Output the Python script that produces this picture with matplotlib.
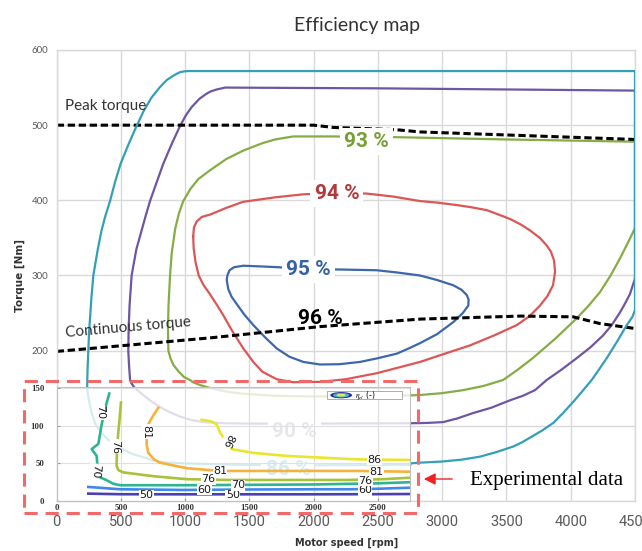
import matplotlib
matplotlib.use("Agg")
import matplotlib.pyplot as plt
from matplotlib import font_manager
from matplotlib.patches import Rectangle, Ellipse, FancyArrowPatch

plt.rcParams['mathtext.fontset'] = 'stix'

names = {f.name for f in font_manager.fontManager.ttflist}
HAS_NARROW = 'Liberation Sans Narrow' in names
NARROW = 'Liberation Sans Narrow' if HAS_NARROW else 'Roboto'

# ---------------- data ----------------
speed_ticks = [0, 500, 1000, 1500, 2000, 2500, 3000, 3500, 4000, 4500]
torque_ticks = [0, 100, 200, 300, 400, 500, 600]
torque_tick_labels = ['', '', '200', '300', '400', '500', '600']
inset_speed_ticks = [0, 500, 1000, 1500, 2000, 2500]
inset_torque_ticks = [0, 50, 100, 150]

# efficiency contours (motor speed rpm, torque Nm)
eff86_speed = [2750, 2000, 1500, 1200, 1000, 850, 750, 680, 600, 520, 439, 390, 340, 300, 272, 258, 245, 237,
               238, 241, 246, 252, 262, 270, 285, 300, 320, 349, 380, 415, 455, 498, 560, 622, 680, 739, 800,
               856, 900, 930, 960, 990, 1024, 4500, 4500, 4480, 4436, 4360, 4280, 4220, 4163, 4090, 4020, 3940,
               3865, 3780, 3700, 3620, 3553, 3420, 3294, 3150, 3000, 2827, 2750]
eff86_torque = [48, 47.5, 48, 49, 50, 51.5, 54, 58, 62, 68, 77, 83, 92, 103, 117, 128, 140, 150,
                161, 180, 200, 225, 250, 270, 300, 315, 335, 360, 380, 399, 425, 449, 475, 499, 520, 537, 550,
                560, 565, 568, 570.5, 571.5, 572, 572, 254, 245, 234, 212, 190, 175, 161, 146, 132, 117,
                104, 94, 86, 78, 72.5, 65, 59, 55, 52.5, 51, 50]

eff90_speed = [2750, 2000, 1500, 1300, 1140, 1040, 950, 870, 805, 740, 680, 630, 600, 580, 571, 563, 557, 560,
               567, 583, 620, 661, 690, 726, 780, 830, 895, 960, 1005, 1050, 1110, 1167, 1200, 1245, 1310, 2500,
               4500, 4500, 4460, 4420, 4380, 4319, 4250, 4150, 4046, 3930, 3813, 3722, 3628, 3528, 3380, 3240,
               3120, 3008, 2900, 2827, 2750]
eff90_torque = [103.5, 103, 103, 103.5, 105, 108, 113, 119, 125, 132, 140, 147, 152, 157, 161, 180, 200, 230,
                260, 300, 335, 360, 378, 399, 425, 449, 475, 499, 513, 524, 535, 542, 545, 547.5, 550, 549,
                546, 296, 275, 262, 250, 234, 220, 204, 190, 175, 161, 147.5, 140, 134, 124, 117,
                110, 105, 104, 103.6, 103.5]

eff93_speed = [2750, 2400, 2000, 1700, 1430, 1300, 1200, 1120, 1060, 1037, 990, 950, 908, 885, 869, 866, 870,
               882, 895, 922, 950, 985, 1040, 1100, 1193, 1320, 1450, 1600, 1700, 1840, 2150, 2645, 3500, 4500,
               4500, 4440, 4384, 4310, 4228, 4140, 4046, 3880, 3704, 3590, 3474, 3320, 3163, 3000, 2827, 2750]
eff93_torque = [140.5, 140, 139, 140, 143, 146, 150, 154, 158, 161, 165, 172, 181, 190, 200, 230, 260,
                300, 330, 362, 382, 399, 415, 428, 440, 455, 466, 476, 481, 485, 485, 484, 481, 478,
                363, 342, 323, 300, 278, 260, 243, 216, 190, 175, 161, 153, 147.5, 143.5, 141, 140.5]

eff94_speed = [1062, 1066, 1080, 1105, 1140, 1193, 1250, 1300, 1370, 1452, 1530, 1600, 1712, 1840, 2049, 2250,
               2490, 2827, 3020, 3216, 3400, 3580, 3680, 3761, 3820, 3862, 3878, 3870, 3845, 3813, 3760, 3683,
               3610, 3530, 3440, 3346, 3220, 3100, 2960, 2827, 2620, 2412, 2180, 1918, 1700, 1450, 1320, 1193,
               1130, 1090, 1068, 1062]
eff94_torque = [352, 336, 318, 300, 288, 275, 260, 246, 225, 203, 185, 172, 162, 158, 158.5, 162,
                170, 185, 196, 207, 220, 234, 246, 260, 273, 287, 305, 320, 332, 340, 350, 360,
                368, 375, 381, 387, 391, 394, 397, 399, 405, 409, 410, 408, 404, 398, 390, 381,
                378, 372, 364, 352]

eff95_speed = [1958, 1725, 1600, 1452, 1380, 1345, 1328, 1323, 1335, 1360, 1401, 1460, 1530, 1620, 1712, 1810,
               1919, 2049, 2200, 2360, 2500, 2646, 2740, 2827, 2960, 3086, 3160, 3203, 3205, 3191, 3150, 3086,
               2960, 2827, 2650, 2490, 2192, 1958]
eff95_torque = [308, 311, 312, 313, 311, 307, 300, 294, 282, 272, 262, 248, 234, 218, 203, 192,
                185, 181.6, 182, 185, 190, 196, 203, 210, 222, 238, 250, 260, 268, 274, 281, 287,
                294, 300, 304, 307, 308, 308]

peak_speed = [0, 2000, 2150, 2640, 2827, 4500]
peak_torque = [500, 500, 497, 494, 491, 481]
cont_speed = [0, 600, 1193, 2049, 2827, 3606, 4019, 4228, 4500]
cont_torque = [199, 208, 217, 232, 242, 246, 245, 236, 229.5]

eff_labels = ['86 %', '90 %', '93 %', '94 %', '95 %', '96 %']
eff_label_speed = [1800, 1850, 2410, 2180, 1958, 2049]
eff_label_torque = [42, 93, 478, 409, 308, 243]

# experimental data (inset) contours
exp50_speed = [246, 500, 1000, 1500, 2000, 2500, 2750]
exp50_torque = [9.8, 9, 8.9, 8.9, 8.9, 9.1, 9.3]
exp60_speed = [246, 493, 985, 1500, 2000, 2283, 2500, 2750]
exp60_torque = [18.7, 15.6, 14.7, 15.3, 15.6, 15.6, 16.3, 17.7]
exp70_speed = [409, 380, 350, 324, 272, 311, 316, 305, 330, 384, 440, 493, 1000, 1500, 2000, 2500, 2750]
exp70_torque = [143, 125, 102, 76, 69, 60, 49, 40, 32, 28, 23, 21, 21, 21.5, 22, 23.5, 25]
exp76_speed = [500, 490, 480, 470, 466, 480, 519, 752, 1012, 1323, 2000, 2257, 2540, 2750]
exp76_torque = [131, 110, 93, 71, 47, 41, 38, 33, 29, 28, 28, 28, 29, 31]
exp81_speed = [791, 745, 713, 700, 700, 713, 760, 804, 1012, 1128, 1270, 1427, 2000, 2335, 2490, 2750]
exp81_torque = [124, 112, 102, 89, 75, 64, 55, 51, 43.6, 42, 40, 40, 40, 40, 39.5, 39]
exp86_speed = [1128, 1200, 1245, 1271, 1300, 1362, 1530, 1790, 2306, 2470, 2750]
exp86_torque = [108, 106, 102, 91, 84, 69, 64, 60, 55.6, 55, 54.7]

exp_labels = ['50', '50', '60', '60', '70', '70', '70', '76', '76', '76', '81', '81', '81', '86', '86']
exp_label_speed = [700, 1370, 1150, 2400, 337, 298, 1410, 455, 1180, 2400, 694, 1270, 2490, 1330, 2470]
exp_label_torque = [8, 8, 15, 14, 118, 40, 21, 72, 29, 27, 92, 40, 39, 80, 55]
exp_label_rot = [0, 0, 0, 0, -90, -95, 0, -90, 0, 0, -90, 0, 0, -115, 0]

# ---------------- styles ----------------
W, H = 642, 551
fig = plt.figure(figsize=(W / 100, H / 100), dpi=100)
x0, x1, y_top, y_bot = 56.7, 635.0, 50.0, 501.0
ax = fig.add_axes([x0 / W, 1 - y_bot / H, (x1 - x0) / W, (y_bot - y_top) / H])
ax.set_xlim(0, 4500)
ax.set_ylim(0, 600)
ax.set_xticks(speed_ticks)
ax.set_yticks(torque_ticks)
ax.set_yticklabels(torque_tick_labels, fontfamily='Lato')
ax.set_xticklabels([str(v) for v in speed_ticks], fontfamily=NARROW)
ax.grid(True, color='#d9d9d9', lw=1.0)
ax.set_axisbelow(True)
for s in ax.spines.values():
    s.set_color('#d9d9d9')
    s.set_linewidth(1.0)
ax.tick_params(length=0)
ax.tick_params(axis='y', pad=6, labelsize=7, labelcolor='#595959')
xt_size = 13 if HAS_NARROW else 10.5
ax.tick_params(axis='x', pad=10, labelsize=xt_size, labelcolor='#595959')

col86, col90, col93, col94, col95 = '#33a0b6', '#6e56a4', '#86ad45', '#dc5656', '#3d67aa'
lw = 1.6
ax.plot(eff86_speed, eff86_torque, color=col86, lw=lw, zorder=2.6)
ax.plot(eff90_speed, eff90_torque, color=col90, lw=lw, zorder=2.4)
ax.plot(eff93_speed, eff93_torque, color=col93, lw=lw, zorder=2.3)
ax.plot(eff94_speed, eff94_torque, color=col94, lw=lw, zorder=2.3)
ax.plot(eff95_speed, eff95_torque, color=col95, lw=lw, zorder=2.3)
ax.plot(peak_speed, peak_torque, color='black', lw=2.2, dashes=(2.4, 1.2), zorder=2.5)
ax.plot(cont_speed, cont_torque, color='black', lw=2.2, dashes=(2.4, 1.2), zorder=2.5)

lab_size = 18 if HAS_NARROW else 15
lab_colors = [col86, '#8f86a8', '#74a034', '#b3383b', '#3561a5', 'black']
for t, sx, ty, c in zip(eff_labels, eff_label_speed, eff_label_torque, lab_colors):
    bb = None if t == '96 %' else dict(boxstyle='square,pad=0.2', fc='white', ec='none')
    ax.text(sx, ty, t, color=c, fontsize=lab_size, fontfamily=NARROW, fontweight='bold',
            ha='center', va='center', bbox=bb, zorder=3)

ax.text(65, 520, 'Peak torque', fontfamily='Lato', fontsize=11, color='#333333', va='baseline')
ax.text(73, 218, 'Continuous torque', fontfamily='Lato', fontsize=11, color='#333333', va='baseline',
        rotation=5, rotation_mode='anchor')

fig.text(357 / W, 1 - 25 / H, 'Efficiency map', fontfamily='Lato', fontsize=14, color='#333333',
         ha='center', va='center')
fig.text(20 / W, 1 - 276 / H, 'Torque [Nm]', fontfamily='DejaVu Sans', fontweight='bold', fontsize=7.5,
         color='#333333', rotation=90, ha='center', va='center')
fig.text(347 / W, 1 - 542.5 / H, 'Motor speed [rpm]', fontfamily='DejaVu Sans', fontweight='bold',
         fontsize=7, color='#333333', ha='center', va='center')

# ---------------- inset (experimental data) ----------------
axin = ax.inset_axes([0, 0, 2750, 152], transform=ax.transData)
axin.set_xlim(0, 2750)
axin.set_ylim(0, 152)
axin.patch.set_facecolor('white')
axin.patch.set_alpha(0.8)
axin.set_xticks(inset_speed_ticks)
axin.set_yticks(inset_torque_ticks)
axin.set_xticklabels([str(v) for v in inset_speed_ticks], fontfamily='Liberation Serif', fontweight='bold')
axin.set_yticklabels([str(v) for v in inset_torque_ticks], fontfamily='Liberation Serif', fontweight='bold')
axin.grid(True, color='#e0e0e0', lw=0.8)
axin.set_axisbelow(True)
for s in axin.spines.values():
    s.set_color('#c0c0c0')
    s.set_linewidth(0.8)
axin.tick_params(direction='in', length=2, color='#999999', labelsize=6.3, labelcolor='#333333')
axin.tick_params(axis='x', pad=2)
axin.tick_params(axis='y', pad=9)

elw = 1.9
axin.plot(exp50_speed, exp50_torque, color='#4b3fb4', lw=elw)
axin.plot(exp60_speed, exp60_torque, color='#3f87ee', lw=elw)
axin.plot(exp70_speed, exp70_torque, color='#2db592', lw=elw)
axin.plot(exp76_speed, exp76_torque, color='#a8c23a', lw=elw)
axin.plot(exp81_speed, exp81_torque, color='#f5b23c', lw=elw)
axin.plot(exp86_speed, exp86_torque, color='#e9e62e', lw=elw)
for t, sx, ty, r in zip(exp_labels, exp_label_speed, exp_label_torque, exp_label_rot):
    axin.text(sx, ty, t, fontsize=8, fontfamily='DejaVu Sans', color='#1a1a1a', rotation=r,
              ha='center', va='center', bbox=dict(boxstyle='square,pad=0.03', fc='white', ec='none'))

# legend box of the inset
axin.add_patch(Rectangle((0.764, 0.89), 0.212, 0.072, transform=axin.transAxes, fc='white',
                         ec='#a0a0a0', lw=0.6, zorder=4))
for w_, h_, c_ in [(0.062, 0.055, '#2d2aa5'), (0.046, 0.04, '#3fb6c9'), (0.026, 0.024, '#e6e84a')]:
    axin.add_patch(Ellipse((0.805, 0.926), w_, h_, transform=axin.transAxes, fc=c_, ec='none', zorder=5))
axin.text(0.843, 0.926, r'$\eta_{el}$ (-)', transform=axin.transAxes, fontsize=5.5, va='center',
          ha='left', zorder=6)

# ---------------- annotation ----------------
fig.add_artist(Rectangle((24 / W, 1 - 513 / H), (418 - 24) / W, (513 - 381) / H, transform=fig.transFigure,
                         fill=False, ec='#f06a6a', lw=2.2, ls=(0, (4.3, 2.6))))
fig.add_artist(FancyArrowPatch((455 / W, 1 - 479 / H), (421 / W, 1 - 479 / H), transform=fig.transFigure,
                               arrowstyle='-|>,head_length=7,head_width=3.5', color='#ee2222', lw=1.0))
fig.text(470 / W, 1 - 481 / H, 'Experimental data', fontfamily='Liberation Serif', fontsize=15,
         color='black', ha='left', va='center')

fig.savefig('out.png', dpi=100)
